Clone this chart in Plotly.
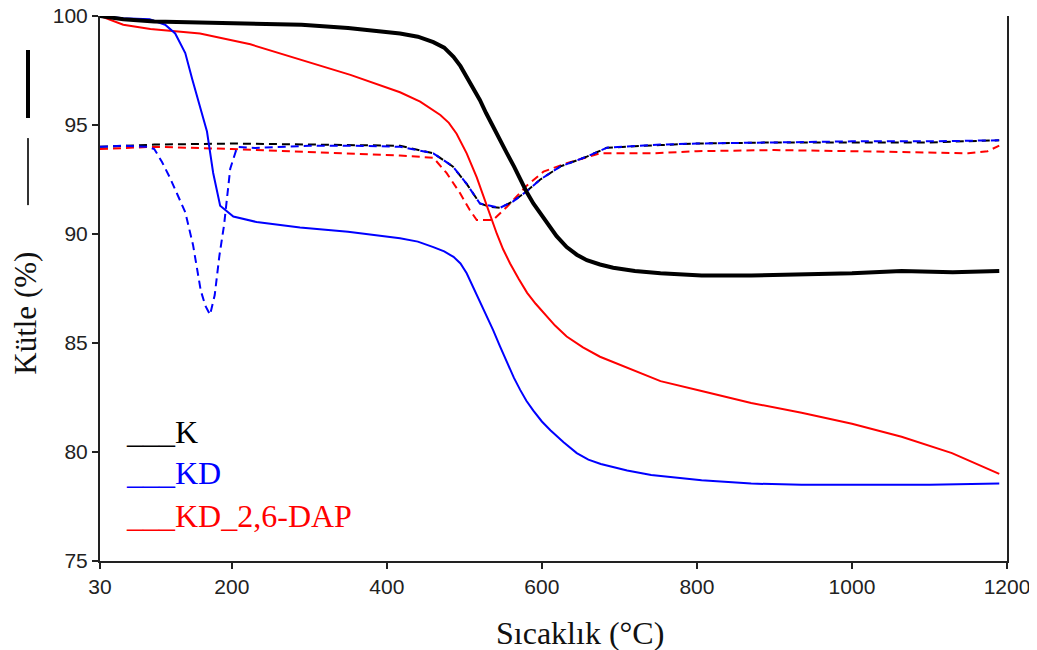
import plotly.graph_objects as go

# TG curves (solid)
k_temp = [30, 60, 100, 160, 220, 290, 350, 417, 440, 460, 474, 486, 495, 503, 511, 520, 528,
          537, 546, 555, 564, 572, 580, 589, 598, 606, 619, 632, 645, 658, 675, 692, 720, 753,
          806, 870, 935, 1000, 1064, 1130, 1190]
k_mass = [100.0, 99.85, 99.75, 99.7, 99.65, 99.6, 99.45, 99.2, 99.05, 98.8, 98.55, 98.13, 97.7,
          97.2, 96.7, 96.15, 95.55, 94.9, 94.3, 93.7, 93.1, 92.5, 91.95, 91.4, 90.95, 90.5,
          89.9, 89.4, 89.05, 88.8, 88.6, 88.45, 88.3, 88.2, 88.1, 88.1, 88.15, 88.2, 88.3,
          88.25, 88.3]

kd_temp = [30, 60, 94, 114, 127, 140, 149, 156, 168, 176, 185, 202, 232, 288, 350, 417, 440,
           460, 474, 486, 495, 503, 511, 520, 528, 537, 546, 555, 564, 572, 580, 589, 600, 611,
           628, 645, 660, 676, 710, 741, 806, 870, 935, 1000, 1100, 1190]
kd_mass = [100.0, 99.9, 99.85, 99.6, 99.2, 98.3, 97.1, 96.2, 94.7, 92.8, 91.3, 90.8, 90.55,
           90.3, 90.1, 89.8, 89.65, 89.4, 89.2, 88.95, 88.65, 88.2, 87.6, 86.95, 86.3, 85.6,
           84.85, 84.1, 83.4, 82.85, 82.35, 81.9, 81.4, 81.0, 80.45, 79.95, 79.65, 79.45, 79.15,
           78.95, 78.7, 78.55, 78.5, 78.5, 78.5, 78.55]

dap_temp = [30, 60, 95, 159, 224, 289, 353, 417, 443, 469, 480, 490, 503, 516, 529, 542, 550,
            559, 570, 581, 592, 602, 617, 632, 653, 675, 718, 753, 806, 870, 935, 1000, 1064,
            1129, 1190]
dap_mass = [100.0, 99.6, 99.4, 99.2, 98.7, 98.0, 97.3, 96.5, 96.07, 95.46, 95.1, 94.6, 93.7,
            92.6, 91.25, 90.0, 89.3, 88.65, 87.95, 87.3, 86.8, 86.4, 85.8, 85.3, 84.8, 84.37,
            83.76, 83.25, 82.8, 82.25, 81.8, 81.3, 80.7, 79.95, 79.0]

# DTG curves (dashed), drawn on the same scale as in the original
k_dtg_temp = [30, 100, 200, 300, 417, 460, 485, 503, 520, 533, 546, 563, 580, 598, 624, 658,
              684, 753, 800, 900, 1000, 1100, 1190]
k_dtg = [94.0, 94.1, 94.15, 94.1, 94.05, 93.7, 93.1, 92.3, 91.4, 91.25, 91.2, 91.5, 91.95,
         92.5, 93.1, 93.55, 93.96, 94.08, 94.15, 94.2, 94.2, 94.2, 94.3]

kd_dtg_temp = [30, 60, 90, 100, 110, 120, 130, 140, 150, 160, 166, 172, 178, 184, 190, 198, 207,
               230, 300, 360, 417, 460, 485, 503, 520, 533, 546, 563, 580, 598, 624, 658, 684,
               753, 800, 900, 1000, 1100, 1190]
kd_dtg = [94.0, 94.05, 94.0, 93.9, 93.3, 92.6, 91.8, 91.0, 89.5, 87.4, 86.7, 86.3, 87.2, 89.0,
          90.4, 93.0, 94.0, 93.95, 94.05, 94.05, 94.0, 93.7, 93.1, 92.3, 91.4, 91.3, 91.2, 91.5,
          91.95, 92.5, 93.1, 93.55, 93.96, 94.1, 94.15, 94.2, 94.25, 94.25, 94.3]

dap_dtg_temp = [30, 100, 200, 300, 417, 460, 477, 494, 507, 516, 537, 555, 580, 602, 632, 675,
                745, 800, 900, 1000, 1100, 1150, 1175, 1190]
dap_dtg = [93.9, 94.0, 93.9, 93.75, 93.6, 93.5, 92.8, 91.9, 91.1, 90.64, 90.64, 91.25, 92.2,
           92.86, 93.25, 93.7, 93.7, 93.8, 93.85, 93.8, 93.75, 93.7, 93.8, 94.05]

x_ticks = [30, 200, 400, 600, 800, 1000, 1200]
y_ticks = [75, 80, 85, 90, 95, 100]

fig = go.Figure()

dash = '8px,5px'
fig.add_trace(go.Scatter(x=dap_dtg_temp, y=dap_dtg, mode='lines',
                         line=dict(color='#ff0000', width=2, dash=dash)))
fig.add_trace(go.Scatter(x=k_dtg_temp, y=k_dtg, mode='lines',
                         line=dict(color='#000000', width=2, dash=dash)))
fig.add_trace(go.Scatter(x=kd_dtg_temp, y=kd_dtg, mode='lines',
                         line=dict(color='#0000ff', width=2, dash=dash)))

fig.add_trace(go.Scatter(x=dap_temp, y=dap_mass, mode='lines',
                         line=dict(color='#ff0000', width=2)))
fig.add_trace(go.Scatter(x=kd_temp, y=kd_mass, mode='lines',
                         line=dict(color='#0000ff', width=2)))
fig.add_trace(go.Scatter(x=k_temp, y=k_mass, mode='lines',
                         line=dict(color='#000000', width=4)))

# legend drawn as text, like the original
legend_rows = [('___K', '#000000', 0.237),
               ('___KD', '#0000ff', 0.162),
               ('___KD_2,6-DAP', '#ff0000', 0.083)]
annotations = []
for text, color, ypos in legend_rows:
    annotations.append(dict(x=0.026, y=ypos, xref='paper', yref='paper', text=text,
                            showarrow=False, xanchor='left', yanchor='middle',
                            font=dict(family='Liberation Serif', size=32, color=color)))

annotations.append(dict(x=-0.083, y=0.455, xref='paper', yref='paper', text='Kütle (%)',
                        textangle=-90, showarrow=False, xanchor='center', yanchor='middle',
                        font=dict(family='Liberation Serif', size=31, color='#111')))
annotations.append(dict(x=0.529, y=-0.132, xref='paper', yref='paper', text='Sıcaklık (°C)',
                        showarrow=False, xanchor='center', yanchor='middle',
                        font=dict(family='Liberation Serif', size=32, color='#111')))

shapes = [dict(type='line', xref='paper', yref='paper', x0=-0.0794, x1=-0.0794,
               y0=0.8128, y1=0.9376, line=dict(color='#000', width=4)),
          dict(type='line', xref='paper', yref='paper', x0=-0.0794, x1=-0.0794,
               y0=0.653, y1=0.776, line=dict(color='#333', width=2))]

# page body adds 8px offset, size and margins compensate for it
fig.update_layout(width=1029, height=642,
                  margin=dict(l=92, r=30, t=8, b=89, pad=0),
                  plot_bgcolor='white', paper_bgcolor='white',
                  showlegend=False,
                  annotations=annotations,
                  shapes=shapes)

fig.update_xaxes(range=[30, 1200], tickvals=x_ticks, ticktext=[str(v) for v in x_ticks],
                 automargin=False, ticklabeloverflow='allow',
                 showgrid=False, zeroline=False, showline=True, linecolor='#222', linewidth=2,
                 ticks='outside', ticklen=6, tickwidth=1.5, tickcolor='#222',
                 tickfont=dict(family='Liberation Sans', size=21, color='#222'))
fig.update_yaxes(range=[75, 100], tickvals=y_ticks, automargin=False,
                 ticklabeloverflow='allow',
                 showgrid=False, zeroline=False, showline=True, linecolor='#222', linewidth=2,
                 mirror=True,
                 ticks='outside', ticklen=6, tickwidth=1.5, tickcolor='#222',
                 tickfont=dict(family='Liberation Sans', size=21, color='#222'))

fig.write_html("out.html")
